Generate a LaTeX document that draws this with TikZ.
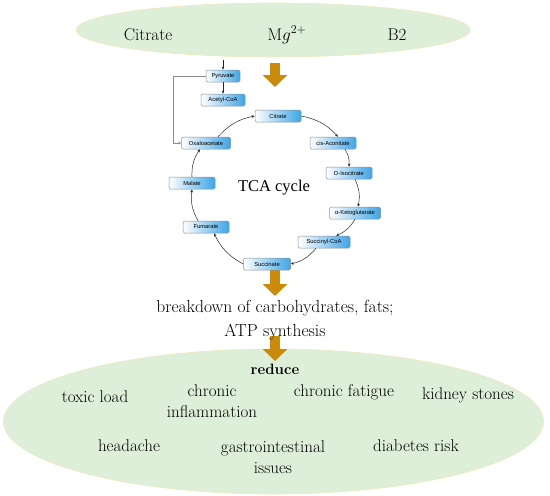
\documentclass[tikz,border=0pt]{standalone}
\usepackage{fontspec}
\newfontfamily\boxfont{Liberation Sans}
\newfontfamily\cyclefont{Liberation Serif}
\usetikzlibrary{arrows.meta,shapes.geometric}
\definecolor{palegreen}{HTML}{DDEFD8}
\definecolor{paleedge}{HTML}{F1E7BD}
\definecolor{gold}{HTML}{CC8A0A}
\definecolor{metblue}{HTML}{3DA5E6}
\definecolor{metedge}{HTML}{8A8F96}

\begin{document}
\begin{tikzpicture}[x=1pt,y=-1pt,>=Latex,
 blob/.style={ellipse,draw=paleedge,fill=palegreen,line width=0.6pt,inner sep=0pt},
 met/.style={rounded corners=1.5pt,draw=metedge,line width=0.5pt,left color=white,middle color=white!75!metblue,right color=metblue,minimum width=46pt,minimum height=12pt,inner sep=1.5pt,font=\boxfont\fontsize{5.8}{6.5}\selectfont},
 t/.style={font=\fontsize{17}{21}\selectfont,align=center,inner sep=0pt},
 fat/.style={-{Triangle[width=24pt,length=12pt]},line width=10pt,gold},
 a/.style={-{Stealth[length=3.2pt,width=2.6pt]},line width=0.5pt,black!85},
 cyc/.style={a,bend left=18}]
\useasboundingbox (0,0) rectangle (550,496);

% input and outcome ellipses
\node[blob,minimum width=394pt,minimum height=54pt] (inputs) at (273,30) {};
\node[blob,minimum width=540pt,minimum height=145pt] (effects) at (273.5,421.5) {};

\node[t,anchor=base] (cit0) at (148,40) {Citrate};
\node[t,anchor=base] (mg) at (287,40) {M$g^{2+}$};
\node[t,anchor=base] (b2) at (397,40) {B2};

% fat arrows
\coordinate (f1s) at (275,63);  \coordinate (f1e) at (275,87);
\coordinate (f2s) at (275,270); \coordinate (f2e) at (275,296);
\coordinate (f3s) at (275,336); \coordinate (f3e) at (275,361);
\draw[fat] (f1s)--(f1e);
\draw[fat] (f2s)--(f2e);
\draw[fat] (f3s)--(f3e);

% entry into the cycle
\node[met,minimum width=34pt] (pyr) at (223,76) {Pyruvate};
\node[met,minimum width=44pt] (aco) at (223,100) {Acetyl-CoA};
\coordinate (feed) at (223,60);
\draw[a] (feed)--(pyr);
\draw[a] (pyr)--(aco);

% TCA cycle
\node[met] (cit) at (278,116) {Citrate};
\node[met] (cis) at (333,143) {cis-Aconitate};
\node[met] (iso) at (349,173) {D-Isocitrate};
\node[met,minimum width=51pt] (akg) at (355,213) {α-Ketoglutarate};
\node[met,minimum width=52pt] (sca) at (324,242) {Succinyl-CoA};
\node[met,minimum width=47pt] (suc) at (267,264) {Succinate};
\node[met] (fum) at (206,227) {Fumarate};
\node[met] (mal) at (192,183) {Malate};
\node[met,minimum width=49pt] (oxa) at (206,143) {Oxaloacetate};
\node[font=\cyclefont\fontsize{16.5}{19}\selectfont,inner sep=0pt] (tca) at (274,188) {TCA cycle};

\draw[a,black!45] (pyr.west) -- ++(-33,0) |- (oxa.west);
\draw[cyc] ([xshift=12pt]oxa.north) to (cit.west);
\draw[cyc] (cit.east) to ([xshift=5pt]cis.north);
\draw[cyc] ([xshift=12pt]cis.south) to (iso.north);
\draw[cyc] ([xshift=6pt]iso.south) to ([xshift=3pt]akg.north);
\draw[cyc] (akg.south) to ([xshift=12pt]sca.north);
\draw[cyc] ([xshift=-8pt]sca.south) to (suc.east);
\draw[cyc] (suc.west) to ([xshift=8pt]fum.south);
\draw[cyc] ([xshift=-8pt]fum.north) to (mal.south);
\draw[cyc] (mal.north) to ([xshift=-6pt]oxa.south);

% result
\node[t,font=\fontsize{17.5}{24}\selectfont] (atp) at (275,320) {breakdown of carbohydrates, fats;\\ATP synthesis};
\node[font=\bfseries\fontsize{15}{18}\selectfont,inner sep=0pt] (red) at (275,369) {reduce};
\node[t] (toxic) at (95,397) {toxic load};
\node[t] (infl) at (212,401) {chronic\\inflammation};
\node[t] (fatigue) at (344,392) {chronic fatigue};
\node[t] (kid) at (468,395) {kidney stones};
\node[t] (head) at (129,446) {headache};
\node[t] (gi) at (273,457) {gastrointestinal\\issues};
\node[t] (diab) at (416,446) {diabetes risk};
\end{tikzpicture}
\end{document}
